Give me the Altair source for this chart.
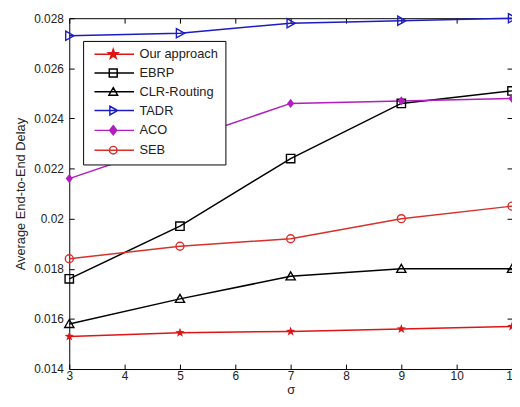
import altair as alt
import pandas as pd

# ---------------- data ----------------
sigma = [3, 5, 7, 9, 11]
series_names = ["Our approach", "EBRP", "CLR-Routing", "TADR", "ACO", "SEB"]
our_approach = [0.0153, 0.01545, 0.0155, 0.0156, 0.0157]
ebrp = [0.0176, 0.0197, 0.0224, 0.0246, 0.0251]
clr_routing = [0.0158, 0.0168, 0.0177, 0.0180, 0.0180]
tadr = [0.0273, 0.0274, 0.0278, 0.0279, 0.0280]
aco = [0.0216, 0.0231, 0.0246, 0.0247, 0.0248]
seb = [0.0184, 0.0189, 0.0192, 0.0200, 0.0205]
x_ticks = [3, 4, 5, 6, 7, 8, 9, 10, 11]
y_ticks = [0.014, 0.016, 0.018, 0.02, 0.022, 0.024, 0.026, 0.028]

colors = ["#e01414", "#000000", "#000000", "#1c1cc4", "#b01ebe", "#d8302c"]
marker_kind = ["star", "square", "tri_up", "tri_right", "diamond", "circle"]
filled_series = ["Our approach", "ACO"]

rows = []
for name, vals in zip(series_names, [our_approach, ebrp, clr_routing, tadr, aco, seb]):
    for x, y in zip(sigma, vals):
        rows.append({"series": name, "sigma": x, "delay": y})
df = pd.DataFrame(rows)

# ---------------- marker geometry (unit symbol space) ----------------
STAR = [(0, -1), (0.235, -0.324), (0.951, -0.309), (0.380, 0.124), (0.588, 0.809),
        (0, 0.4), (-0.588, 0.809), (-0.380, 0.124), (-0.951, -0.309), (-0.235, -0.324)]
SHAPES = {
    "star": [(x * 1.25, y * 1.25) for x, y in STAR],
    "square": [(-1, -1), (1, -1), (1, 1), (-1, 1)],
    "tri_up": [(0, -1.05), (1.1, 0.85), (-1.1, 0.85)],
    "tri_right": [(-0.85, -1.1), (1.1, 0), (-0.85, 1.1)],
    "diamond": [(0, -1.15), (0.9, 0), (0, 1.15), (-0.9, 0)],
}


def poly(pts, dx=0.0):
    return "M" + "L".join(f"{x + dx:.3f},{y:.3f}" for x, y in pts) + "Z"


def circle(r, dx=0.0, sweep=0):
    return (f"M{dx - r:.3f},0A{r},{r} 0 1,{sweep} {dx + r:.3f},0"
            f"A{r},{r} 0 1,{sweep} {dx - r:.3f},0Z")


def marker(kind, dx=0.0, hollow=False):
    # a hollow marker is drawn twice with opposite winding: its fill cancels out
    if kind == "circle":
        p = circle(0.95, dx, 0)
        return p + circle(0.95, dx, 1) if hollow else p
    pts = SHAPES[kind]
    p = poly(pts, dx)
    return p + poly(list(reversed(pts)), dx) if hollow else p


chart_paths = [marker(k) for k in marker_kind]
legend_paths = ["M-0.5,0H9.5" + marker(k, 4.25, hollow=(n not in filled_series))
                for k, n in zip(marker_kind, series_names)]

FONT = "Liberation Sans"
W, H = 448, 355

xs = alt.Scale(domain=[3, 11], nice=False, zero=False)
ys = alt.Scale(domain=[0.014, 0.028], nice=False, zero=False)
color_scale = alt.Scale(domain=series_names, range=colors)


def legend():
    return alt.Legend(orient="none", legendX=14, legendY=23, padding=7,
                      strokeColor="#000000", fillColor="white", symbolSize=64,
                      symbolStrokeWidth=1.5, labelOffset=37, rowPadding=4,
                      labelFontSize=13, labelFont=FONT, labelColor="#222222", title=None)


# legend-only layer (first, so its legend definition wins): it draws nothing,
# the explicit scale domains keep every legend entry
legend_layer = alt.Chart(df).transform_filter("datum.sigma < 0").mark_point(
    filled=True, size=64, strokeWidth=1.5, opacity=1
).encode(
    x=alt.X("sigma:Q", scale=xs, axis=None),
    y=alt.Y("delay:Q", scale=ys, axis=None),
    color=alt.Color("series:N", scale=color_scale, legend=legend()),
    stroke=alt.Stroke("series:N", scale=color_scale, legend=legend()),
    shape=alt.Shape("series:N", scale=alt.Scale(domain=series_names, range=legend_paths),
                    legend=legend()),
)

lines = alt.Chart(df).mark_line(strokeWidth=1.5).encode(
    x=alt.X("sigma:Q", scale=xs, axis=alt.Axis(
        orient="bottom", values=x_ticks, title="σ", ticks=False, tickSize=0,
        domain=False, labelFlush=False, labelPadding=2, titlePadding=2)),
    y=alt.Y("delay:Q", scale=ys, axis=alt.Axis(
        orient="left", values=y_ticks, format="~g", title="Average End-to-End Delay",
        ticks=False, tickSize=0, domain=False, labelFlush=False,
        labelPadding=6, titlePadding=6)),
    color=alt.Color("series:N", scale=color_scale, legend=None),
)

tick_axes = [
    (alt.Axis(orient="top", offset=-H, values=x_ticks, labels=False, ticks=True,
              tickSize=5, domain=False, title=None),
     alt.Axis(orient="right", offset=-W, values=y_ticks, labels=False, ticks=True,
              tickSize=5, domain=False, title=None)),
    (alt.Axis(orient="bottom", offset=-H, values=x_ticks, labels=False, ticks=True,
              tickSize=5, domain=False, title=None),
     alt.Axis(orient="left", offset=-W, values=y_ticks, labels=False, ticks=True,
              tickSize=5, domain=False, title=None)),
]

point_layers = []
for i, (name, path) in enumerate(zip(series_names, chart_paths)):
    is_filled = name in filled_series
    xa, ya = tick_axes[i] if i < len(tick_axes) else (None, None)
    mk = dict(shape=path, filled=is_filled, size=64 if is_filled else 72, opacity=1)
    if not is_filled:
        mk["strokeWidth"] = 1.4
    layer = alt.Chart(df).transform_filter(
        alt.FieldEqualPredicate(field="series", equal=name)
    ).mark_point(**mk).encode(
        x=alt.X("sigma:Q", scale=xs, axis=xa),
        y=alt.Y("delay:Q", scale=ys, axis=ya),
        color=alt.Color("series:N", scale=color_scale, legend=None),
    )
    point_layers.append(layer)

chart = alt.layer(legend_layer, lines, *point_layers).resolve_axis(
    x="independent", y="independent"
).properties(
    width=W, height=H,
    padding={"left": 62, "top": 8, "right": 0, "bottom": 28},
    autosize=alt.AutoSizeParams(type="none"),
    background="white",
).configure_view(
    stroke="#000000", strokeWidth=1
).configure_axis(
    grid=False, labelFont=FONT, titleFont=FONT, labelFontSize=12, titleFontSize=13,
    labelColor="#222222", titleColor="#222222", titleFontWeight="normal",
    tickColor="#000000", tickWidth=1,
)

chart.save("out.html", embed_options={"renderer": "svg", "actions": False})
